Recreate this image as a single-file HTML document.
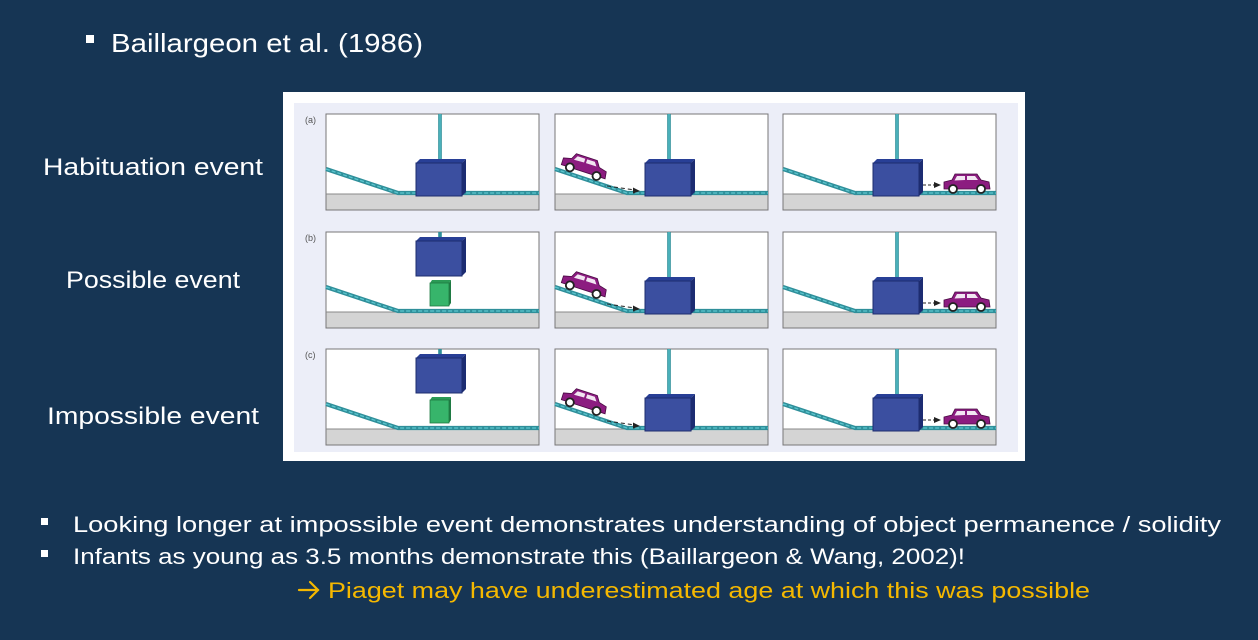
<!DOCTYPE html>
<html><head><meta charset="utf-8"><style>
html,body{margin:0;padding:0;background:#163554;}
svg{display:block;}
text{font-family:"Liberation Sans",sans-serif;}
</style></head><body>
<svg width="1258" height="640" viewBox="0 0 1258 640" xmlns="http://www.w3.org/2000/svg">
<defs>
<g id="car">
 <path d="M1,8 L9,6 L12,0 L34,0 L38,6 L46,8 L47,15 L1,15 Z" fill="#8c1c80" stroke="#4a0b44" stroke-width="0.8"/>
 <path d="M14,2 L22,2 L22,6 L11.5,6.5 Z M24,2 L32,2 L35,6 L24,6 Z" fill="#f2e6f2"/>
 <circle cx="10" cy="15" r="4" fill="#fff" stroke="#222" stroke-width="1.8"/>
 <circle cx="38" cy="15" r="4" fill="#fff" stroke="#222" stroke-width="1.8"/>
</g>
<g id="base">
 <rect x="0" y="0" width="213" height="96" fill="#fff" stroke="#777" stroke-width="1"/>
 <rect x="0.5" y="80" width="212" height="15.5" fill="#d4d4d4"/>
 <line x1="0" y1="80" x2="213" y2="80" stroke="#888" stroke-width="1"/>
 <polyline points="0,55 72,79 213,79" fill="none" stroke="#2f8f9a" stroke-width="4.2"/>
 <polyline points="0,55 72,79 213,79" fill="none" stroke="#5cc6cf" stroke-width="1.3" stroke-dasharray="4 2"/>
</g>
<g id="boxlow">
 <line x1="114" y1="0" x2="114" y2="48" stroke="#2f8f9a" stroke-width="3.6"/>
 <line x1="114" y1="0" x2="114" y2="48" stroke="#5cc6cf" stroke-width="1.2"/>
 <polygon points="90,49 94,45 140,45 136,49" fill="#283f96"/>
 <polygon points="136,49 140,45 140,78 136,82" fill="#1c2c72"/>
 <rect x="90" y="49" width="46" height="33" fill="#3b4fa0" stroke="#1e2c6e" stroke-width="1"/>
</g>
<g id="boxhigh">
 <line x1="114" y1="0" x2="114" y2="7" stroke="#2f8f9a" stroke-width="3.6"/>
 <polygon points="90,9 94,5 140,5 136,9" fill="#283f96"/>
 <polygon points="136,9 140,5 140,40 136,44" fill="#1c2c72"/>
 <rect x="90" y="9" width="46" height="35" fill="#3b4fa0" stroke="#1e2c6e" stroke-width="1"/>
 <polygon points="104,51 106,48 125,48 123,51" fill="#2a9a55"/>
 <polygon points="123,51 125,48 125,71 123,74" fill="#1f7a43"/>
 <rect x="104" y="51" width="19" height="23" fill="#37b56b" stroke="#1f7a43" stroke-width="0.8"/>
</g>
<g id="p1"><use href="#base"/><use href="#boxlow"/></g>
<g id="p1h"><use href="#base"/><use href="#boxhigh"/></g>
<g id="p2"><use href="#base"/><use href="#boxlow"/>
 <line x1="52" y1="72" x2="80" y2="76" stroke="#222" stroke-width="1" stroke-dasharray="4 3"/>
 <polygon points="85,77 78,73.5 78,79.5" fill="#222"/>
 <use href="#car" transform="translate(10,36) rotate(18)"/>
</g>
<g id="p3"><use href="#base"/><use href="#boxlow"/>
 <line x1="140" y1="71" x2="152" y2="71" stroke="#222" stroke-width="1" stroke-dasharray="3 2"/>
 <polygon points="158,71 151,68 151,74" fill="#222"/>
 <use href="#car" transform="translate(160,60)"/>
</g>
</defs>

<rect width="1258" height="640" fill="#163554"/>
<rect x="86" y="35" width="8" height="8" fill="#fff"/>
<text x="111" y="52" font-size="26" fill="#fff" textLength="312" lengthAdjust="spacingAndGlyphs">Baillargeon et al. (1986)</text>

<text x="43" y="175" font-size="24" fill="#fff" textLength="220" lengthAdjust="spacingAndGlyphs">Habituation  event</text>
<text x="66" y="288" font-size="24" fill="#fff" textLength="174" lengthAdjust="spacingAndGlyphs">Possible event</text>
<text x="47" y="424" font-size="24" fill="#fff" textLength="212" lengthAdjust="spacingAndGlyphs">Impossible  event</text>

<rect x="283" y="92" width="742" height="369" fill="#fff"/>
<rect x="294" y="103" width="724" height="349" fill="#eceef8"/>
<text x="305" y="123" font-size="9" fill="#555">(a)</text>
<text x="305" y="241" font-size="9" fill="#555">(b)</text>
<text x="305" y="358" font-size="9" fill="#555">(c)</text>

<use href="#p1" x="326" y="114"/>
<use href="#p2" x="555" y="114"/>
<use href="#p3" x="783" y="114"/>
<use href="#p1h" x="326" y="232"/>
<use href="#p2" x="555" y="232"/>
<use href="#p3" x="783" y="232"/>
<use href="#p1h" x="326" y="349"/>
<use href="#p2" x="555" y="349"/>
<use href="#p3" x="783" y="349"/>

<rect x="41" y="518" width="7" height="7" fill="#fff"/>
<text x="73" y="532" font-size="22" fill="#fff" textLength="1148" lengthAdjust="spacingAndGlyphs">Looking longer at impossible event demonstrates understanding of object permanence / solidity</text>
<rect x="41" y="550" width="7" height="7" fill="#fff"/>
<text x="73" y="564" font-size="22" fill="#fff" textLength="892" lengthAdjust="spacingAndGlyphs">Infants as young as 3.5 months demonstrate this (Baillargeon &amp; Wang, 2002)!</text>
<g stroke="#f5b800" stroke-width="2.2" fill="none" stroke-linecap="round">
 <line x1="299" y1="590" x2="318" y2="590"/>
 <polyline points="310,582 318,590 310,598"/>
</g>
<text x="328" y="598" font-size="22" fill="#f5b800" textLength="762" lengthAdjust="spacingAndGlyphs">Piaget may have underestimated age at which this was possible</text>
</svg>
</body></html>
